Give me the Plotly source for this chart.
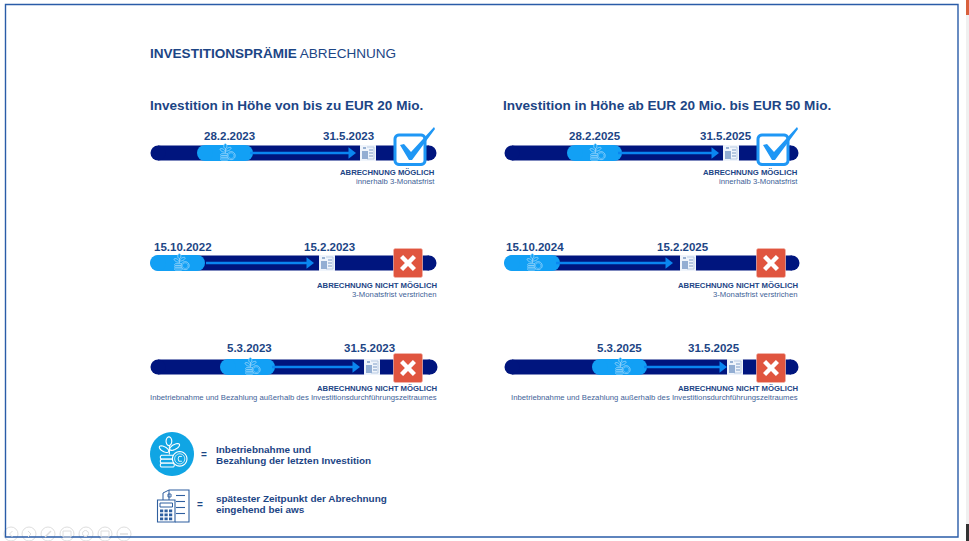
import math
import plotly.graph_objects as go

# ---------- content ----------
TITLE_BOLD = "INVESTITIONSPRÄMIE"
TITLE_REGULAR = "ABRECHNUNG"
COLUMN_HEADS = ["Investition in Höhe von bis zu EUR 20 Mio.",
                "Investition in Höhe ab EUR 20 Mio. bis EUR 50 Mio."]
COLUMN_HEAD_X = [149.5, 503]

# timeline rows, on the page's own pixel scale
row_y =       [153, 263, 367, 153, 263, 367]
date_y =      [136, 247, 348, 136, 247, 348]
bar_start =   [158, 158, 158, 512, 512, 512]
bar_end =     [429, 429, 430, 791, 792, 791]
seg_start =   [205, 158, 228, 575, 512, 600]
seg_end =     [245, 197, 267, 614, 552, 639]
plant_x =     [227, 181, 252, 597, 534, 622]
arrow_start = [250, 206, 272, 618, 556, 644]
arrow_end =   [356, 314, 360, 719, 673, 727]
doc_x =       [368, 327, 372, 731, 688, 735]
badge_x =     [409, 408, 408, 772, 771, 771]
badge_ok =    [True, False, False, True, False, False]
date_a =      ["28.2.2023", "15.10.2022", "5.3.2023", "28.2.2025", "15.10.2024", "5.3.2025"]
date_a_x =    [229.5, 182.5, 249.5, 594.5, 534.5, 619.5]
date_b =      ["31.5.2023", "15.2.2023", "31.5.2023", "31.5.2025", "15.2.2025", "31.5.2025"]
date_b_x =    [348, 329.5, 369, 726, 683, 714]
status =      ["ABRECHNUNG MÖGLICH", "ABRECHNUNG NICHT MÖGLICH", "ABRECHNUNG NICHT MÖGLICH"] * 2
detail =      ["innerhalb 3-Monatsfrist", "3-Monatsfrist verstrichen",
               "Inbetriebnahme und Bezahlung außerhalb des Investitionsdurchführungszeitraumes"] * 2
status_right = [435, 437, 437, 798, 798, 798]
status_y =    [172, 285, 388, 172, 285, 388]
detail_y =    [181, 294, 397, 181, 294, 397]

LEGEND_LINES = [("Inbetriebnahme und", 216, 449), ("Bezahlung der letzten Investition", 216, 460.5),
                ("spätester Zeitpunkt der Abrechnung", 216, 498), ("eingehend bei aws", 216, 509)]
LEGEND_EQ = [(204, 454), (199.5, 504)]
TOOLBAR_X = [11, 29, 48, 67, 86, 105, 124]

# ---------- style ----------
NAVY = "#00157e"
LIGHT = "#12a0f5"
LIGHT2 = "#10a5e4"
ARROW = "#0a86f0"
TEXT = "#1c4585"
TEXT2 = "#3f6398"
FRAME = "#2a5ca8"
RED = "#e0553f"
BOX = "#1f97f5"
FONT = "Liberation Sans"

fig = go.Figure()
shapes = []
annos = []


def txt(x, y, s, size, color=TEXT, bold=False, anchor="left"):
    annos.append(dict(x=x, y=y, text=f"<b>{s}</b>" if bold else s, showarrow=False,
                      xanchor=anchor, yanchor="middle",
                      font=dict(family=FONT, size=size, color=color), borderpad=0, borderwidth=0))


def path(points, close=True):
    d = "M" + " L".join(f"{x:.2f},{y:.2f}" for x, y in points)
    return d + (" Z" if close else "")


def circle_pts(cx, cy, r, n=28):
    return [(cx + r * math.cos(2 * math.pi * i / n), cy + r * math.sin(2 * math.pi * i / n)) for i in range(n)]


def leaf_pts(cx, cy, a, b, rot, n=18):
    c, s = math.cos(rot), math.sin(rot)
    pts = []
    for i in range(n):
        t = 2 * math.pi * i / n
        u, v = a * math.cos(t), b * math.sin(t)
        pts.append((cx + u * c - v * s, cy + u * s + v * c))
    return pts


def rrect_pts(x0, y0, x1, y1, r):
    pts = []
    for cx, cy, a in [(x1 - r, y0 + r, -90), (x1 - r, y1 - r, 0), (x0 + r, y1 - r, 90), (x0 + r, y0 + r, 180)]:
        for k in range(6):
            t = math.radians(a + 18 * k)
            pts.append((cx + r * math.cos(t), cy + r * math.sin(t)))
    return pts


def add(points, fill=None, line=None, width=1, close=True):
    s = dict(type="path", xref="x", yref="y", layer="above", path=path(points, close),
             line=dict(color=line or "rgba(0,0,0,0)", width=width if line else 0))
    if fill and close:
        s["fillcolor"] = fill
    shapes.append(s)


def plant_icon(cx, cy, s, color, w, bg):
    """Plant on a coin stack with a euro coin; s = half size."""
    def P(u, v):
        return (cx + u * s, cy + v * s)
    add([P(-.12, .02), P(-.12, -.5)], line=color, width=w, close=False)
    add([(cx + x * s, cy + y * s) for x, y in leaf_pts(-.14, -.58, .13, .2, 0)], fill=bg, line=color, width=w)
    add([(cx + x * s, cy + y * s) for x, y in leaf_pts(-.36, -.22, .24, .11, .5)], fill=bg, line=color, width=w)
    add([(cx + x * s, cy + y * s) for x, y in leaf_pts(.12, -.32, .25, .11, -.5)], fill=bg, line=color, width=w)
    for v in (.06, .24, .42):
        add(rrect_pts(cx - .53 * s, cy + v * s, cx + .1 * s, cy + (v + .17) * s, .07 * s), fill=bg, line=color, width=w)
    add([P(*q) for q in circle_pts(.35, .22, .33)], fill=bg, line=color, width=w)
    add([P(*q) for q in circle_pts(.35, .22, .23)], line=color, width=w * .7)
    if s >= 15:
        add([P(.45, .11), P(.31, .11), P(.28, .22), P(.31, .33), P(.45, .33)], line=color, width=w * .8, close=False)


def doc_small(cx, cy):
    add(rrect_pts(cx - 8, cy - 8, cx + 8, cy + 8, .5), fill="#eff4fb")
    c = "#7d9cc6"
    add([(cx - 1, cy - 6), (cx + 6, cy - 6), (cx + 6, cy + 6), (cx - 1, cy + 6)], line="#b9cbe3", width=1, close=False)
    for v in (-3, 0, 3):
        add([(cx + 1, cy + v), (cx + 5, cy + v)], line=c, width=1, close=False)
    add([(cx - 6, cy - 2), (cx, cy - 2), (cx, cy + 6), (cx - 6, cy + 6)], fill="#93aed3")
    add([(cx - 5, cy - 5), (cx - 2, cy - 5)], line=c, width=1.5, close=False)


def doc_big(x0, y0, x1, y1):
    c = "#2f5f9f"
    w = (x1 - x0) / 32
    h = (y1 - y0) / 33
    X = lambda u: x0 + u * w
    Y = lambda v: y0 + v * h
    add([(X(12), Y(1)), (X(32), Y(1)), (X(32), Y(33)), (X(18), Y(33))], line=c, width=1.1, close=False)
    for v in (6.5, 12.5, 18.5, 24.5):
        add([(X(19), Y(v)), (X(28), Y(v))], line=c, width=1.1, close=False)
    add([(X(0.5), Y(11)), (X(18), Y(11)), (X(18), Y(33)), (X(0.5), Y(33))], fill="#ffffff", line=c, width=1.1)
    add([(X(3), Y(14)), (X(15.5), Y(14)), (X(15.5), Y(18)), (X(3), Y(18))], line=c, width=1)
    for i in range(3):
        for j in range(3):
            add(rrect_pts(X(3 + 4.5 * i), Y(20.5 + 4 * j), X(6.2 + 4.5 * i), Y(23.3 + 4 * j), .2), fill=c)
    add([(X(6), Y(11)), (X(6), Y(4)), (X(12), Y(1)), (X(12), Y(11))], line=c, width=1, close=False)
    add(rrect_pts(X(11), Y(5), X(14), Y(8), .2), line=c, width=1)


def check_badge(cx, cy):
    add(rrect_pts(cx - 14, cy - 14, cx + 16, cy + 15.5, 4), fill="#ffffff", line=BOX, width=3)
    add([(cx - 9, cy - 4), (cx - 5, cy - 5), (cx + 2, cy + 3), (cx + 25, cy - 22), (cx + 26, cy - 20),
         (cx + 3, cy + 11), (cx, cy + 11)], fill=BOX)


def cross_badge(cx, cy):
    add(rrect_pts(cx - 14.5, cy - 14.5, cx + 14.5, cy + 14.5, 2), fill=RED, line="#f3b9ae", width=.7)
    t = 3.1
    a = 8
    add([(cx - a, cy - a + t), (cx - a + t, cy - a), (cx, cy - t), (cx + a - t, cy - a), (cx + a, cy - a + t),
         (cx + t, cy), (cx + a, cy + a - t), (cx + a - t, cy + a), (cx, cy + t), (cx - a + t, cy + a),
         (cx - a, cy + a - t), (cx - t, cy)], fill="#ffffff")


# ---------- frame ----------
add([(5.5, 4.5), (958, 4.5), (958, 537), (5.5, 537)], line=FRAME, width=1.4)
add([(966, 0), (969, 0), (969, 15), (966, 15)], fill="#d9603c")
add([(966, 15), (969, 15), (969, 524), (966, 524)], fill="#f0f0f0")
add([(966, 524), (969, 524), (969, 541), (966, 541)], fill="#333333")

# ---------- timelines ----------
for i in range(len(row_y)):
    y = row_y[i]
    fig.add_trace(go.Scatter(x=[bar_start[i], bar_end[i]], y=[y, y], mode="lines+markers", hoverinfo="skip",
                             line=dict(color=NAVY, width=15), marker=dict(color=NAVY, size=15, line=dict(width=0))))
    fig.add_trace(go.Scatter(x=[seg_start[i], seg_end[i]], y=[y, y], mode="lines+markers", hoverinfo="skip",
                             line=dict(color=LIGHT, width=16), marker=dict(color=LIGHT, size=16, line=dict(width=0))))
    fig.add_trace(go.Scatter(x=[arrow_start[i], arrow_end[i] - 4], y=[y, y], mode="lines", hoverinfo="skip",
                             line=dict(color=ARROW, width=2.5)))
    fig.add_trace(go.Scatter(x=[arrow_end[i] - 5], y=[y], mode="markers", hoverinfo="skip",
                             marker=dict(symbol="triangle-right", color=ARROW, size=10, line=dict(width=0))))
    plant_icon(plant_x[i], y, 12, "#9fd8fb", .8, LIGHT)
    doc_small(doc_x[i], y)
    (check_badge if badge_ok[i] else cross_badge)(badge_x[i], y - 4 if badge_ok[i] else y + (0 if i % 3 == 1 else 1))
    txt(date_a_x[i], date_y[i], date_a[i], 11.5, bold=True, anchor="center")
    txt(date_b_x[i], date_y[i], date_b[i], 11.5, bold=True, anchor="center")
    txt(status_right[i], status_y[i], status[i], 7.72, bold=True, anchor="right")
    txt(status_right[i], detail_y[i], detail[i], 7.72, color=TEXT2, anchor="right")

# ---------- headings ----------
annos.append(dict(x=149, y=53, text=f"<b>{TITLE_BOLD}</b> {TITLE_REGULAR}", showarrow=False, xanchor="left",
                  yanchor="middle", font=dict(family=FONT, size=13.55, color=TEXT), borderpad=0))
for hx, head in zip(COLUMN_HEAD_X, COLUMN_HEADS):
    txt(hx, 105.5, head, 13.55, bold=True)

# ---------- legend ----------
add(circle_pts(172, 454, 22, 48), fill=LIGHT2)
plant_icon(172, 454, 22, "#ffffff", 1.1, LIGHT2)
doc_big(157, 489, 189, 522)
for (ex, ey) in LEGEND_EQ:
    txt(ex, ey, "=", 10, bold=True, anchor="center")
for s, lx, ly in LEGEND_LINES:
    txt(lx, ly, s, 9.95, bold=True)

# ---------- faint slide toolbar ----------
TB = "#dedede"
fig.add_trace(go.Scatter(x=TOOLBAR_X, y=[534] * len(TOOLBAR_X), mode="markers", hoverinfo="skip",
                         marker=dict(symbol="circle-open", size=14, color=TB, line=dict(width=1, color=TB))))
add([(12.5, 531), (9.5, 534), (12.5, 537)], line=TB, close=False)
add([(28, 531), (31, 534), (28, 537)], line=TB, close=False)
add([(45, 537), (51, 531)], line=TB, width=1.5, close=False)
add([(63, 531), (71, 531), (71, 537), (63, 537)], line=TB)
add(circle_pts(85.5, 533.5, 3, 12), line=TB)
add([(101, 531), (109, 531), (109, 537), (101, 537)], line=TB)
add([(120, 534), (128, 534)], line=TB, width=1.5, close=False)

fig.update_layout(
    width=969, height=541, margin=dict(l=0, r=0, t=0, b=0), showlegend=False,
    paper_bgcolor="#ffffff", plot_bgcolor="#ffffff",
    xaxis=dict(range=[0, 969], visible=False, fixedrange=True),
    yaxis=dict(range=[541, 0], visible=False, fixedrange=True),
    shapes=shapes, annotations=annos,
)
fig.write_html("out.html", config=dict(displayModeBar=False),
               post_script="document.body.style.margin='0';document.body.style.overflow='hidden';")
